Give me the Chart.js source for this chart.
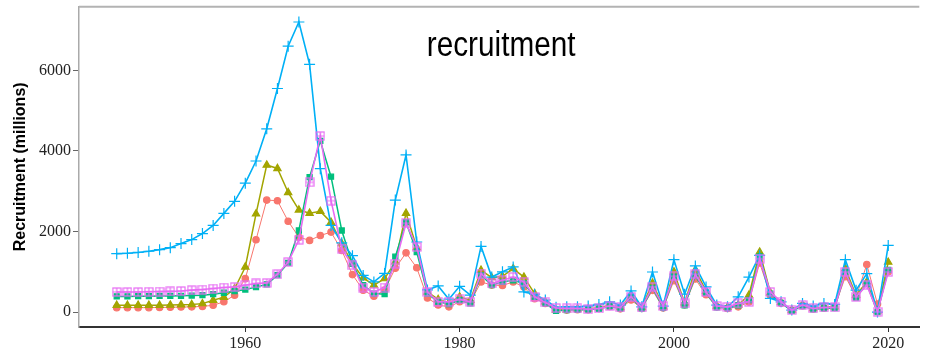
<!DOCTYPE html>
<html>
<head>
<meta charset="utf-8">
<script src="https://cdn.jsdelivr.net/npm/chart.js@4.4.1/dist/chart.umd.min.js"></script>
<style>
  html, body { margin: 0; padding: 0; background: #fff; }
  #wrap { width: 926px; height: 352px; }
</style>
</head>
<body>
<div id="wrap"><canvas id="recruitChart" width="926" height="352"></canvas></div>
<script>
// Years of the recruitment series
const years = [
  1948, 1949, 1950, 1951, 1952, 1953, 1954, 1955, 1956, 1957,
  1958, 1959, 1960, 1961, 1962, 1963, 1964, 1965, 1966, 1967,
  1968, 1969, 1970, 1971, 1972, 1973, 1974, 1975, 1976, 1977,
  1978, 1979, 1980, 1981, 1982, 1983, 1984, 1985, 1986, 1987,
  1988, 1989, 1990, 1991, 1992, 1993, 1994, 1995, 1996, 1997,
  1998, 1999, 2000, 2001, 2002, 2003, 2004, 2005, 2006, 2007,
  2008, 2009, 2010, 2011, 2012, 2013, 2014, 2015, 2016, 2017,
  2018, 2019, 2020
];

// Recruitment (millions) per run
const runA = [
  110, 110, 110, 110, 115, 120, 125, 130, 140, 170,
  255, 420, 830, 1795, 2780, 2765, 2255, 1860, 1780, 1900,
  1985, 1530, 930, 545, 395, 545, 1090, 1470, 1100, 350,
  175, 130, 255, 240, 750, 670, 660, 750, 625, 330,
  215, 50, 50, 60, 60, 90, 140, 80, 300, 90,
  540, 100, 780, 180, 820, 430, 130, 90, 130, 250,
  1220, 420, 220, 40, 160, 80, 100, 120, 880, 380,
  1180, 200, 1000
];
const runB = [
  170, 170, 170, 170, 170, 175, 180, 190, 210, 295,
  370, 580, 1120, 2440, 3650, 3565, 2970, 2535, 2455, 2500,
  2230, 1700, 1200, 850, 670, 830, 1250, 2455, 1600, 500,
  315, 230, 380, 295, 1040, 855, 890, 1080, 870, 460,
  255, 50, 60, 80, 80, 110, 170, 110, 420, 110,
  720, 130, 1000, 230, 1050, 520, 150, 120, 180, 420,
  1490, 480, 240, 50, 170, 90, 120, 130, 1080, 420,
  750, 30, 1240
];
const runC = [
  390, 390, 395, 395, 400, 400, 405, 410, 420, 445,
  480, 520, 560, 620, 690, 915, 1220, 2025, 3350, 4250,
  3360, 2025, 1200, 670, 460, 445, 1375, 2230, 1490, 460,
  255, 200, 295, 215, 915, 670, 750, 790, 710, 380,
  215, 30, 50, 60, 60, 80, 140, 90, 360, 90,
  600, 110, 880, 170, 900, 480, 120, 100, 170, 300,
  1380, 460, 230, 30, 150, 70, 90, 100, 1000, 360,
  700, 0, 1050
];
const runD = [
  1450, 1460, 1480, 1510, 1550, 1600, 1700, 1800, 1950, 2150,
  2450, 2750, 3200, 3750, 4550, 5550, 6600, 7200, 6150, 3560,
  2150, 1720, 1400, 910, 750, 960, 2780, 3900, 1740, 550,
  650, 320, 640, 420, 1630, 870, 1000, 1120, 500, 445,
  300, 120, 130, 130, 150, 190, 255, 175, 525, 130,
  995, 150, 1300, 445, 1145, 625, 175, 130, 380, 870,
  1410, 340, 255, 50, 215, 150, 215, 190, 1300, 545,
  955, 0, 1655
];
const runE = [
  500, 500, 500, 505, 510, 515, 525, 545, 560, 585,
  610, 625, 670, 710, 725, 940, 1240, 1795, 3220, 4370,
  2765, 1575, 1160, 610, 500, 610, 1200, 2205, 1615, 500,
  255, 255, 315, 255, 955, 710, 790, 870, 750, 380,
  240, 100, 90, 90, 70, 90, 150, 115, 380, 115,
  625, 150, 890, 215, 940, 500, 150, 130, 215, 255,
  1325, 500, 255, 50, 175, 90, 115, 115, 995, 380,
  670, 10, 995
];

const xTicks = [1960, 1980, 2000, 2020];
const yTicks = [0, 2000, 4000, 6000];

// open square with a plus inside
function squarePlus(color) {
  const c = document.createElement('canvas');
  c.width = 10; c.height = 10;
  const g = c.getContext('2d');
  g.strokeStyle = color;
  g.lineWidth = 1.2;
  g.strokeRect(1, 1, 8, 8);
  g.beginPath();
  g.moveTo(5, 1); g.lineTo(5, 9);
  g.moveTo(1, 5); g.lineTo(9, 5);
  g.stroke();
  return c;
}

function pts(vals) {
  return years.map((yr, i) => ({ x: yr, y: vals[i] }));
}

function series(label, vals, color, style, radius, width, order) {
  return {
    label: label,
    data: pts(vals),
    borderColor: color,
    backgroundColor: color,
    borderWidth: width,
    pointStyle: style,
    pointRadius: radius,
    pointBackgroundColor: color,
    pointBorderColor: color,
    pointBorderWidth: 1.2,
    tension: 0,
    order: order
  };
}

// no extra room for the edge tick labels, the panel runs to the canvas edge
function noEdgePadding(s) {
  s.paddingTop = 0;
  s.paddingBottom = 0;
  s.paddingLeft = 0;
  s.paddingRight = 0;
}

// panel top line and the chart title inside the plot
const panelDecor = {
  id: 'panelDecor',
  afterDraw(chart) {
    const { ctx, chartArea } = chart;
    ctx.save();
    ctx.strokeStyle = '#b3b3b3';
    ctx.lineWidth = 2;
    ctx.beginPath();
    ctx.moveTo(chartArea.left, chartArea.top);
    ctx.lineTo(chartArea.right, chartArea.top);
    ctx.stroke();
    // condensed title text
    ctx.fillStyle = '#000';
    ctx.font = '35px "Liberation Sans", Arial, sans-serif';
    ctx.textAlign = 'center';
    ctx.textBaseline = 'alphabetic';
    ctx.translate((chartArea.left + chartArea.right) / 2 + 2, 56);
    ctx.scale(0.85, 1);
    ctx.fillText('recruitment', 0, 0);
    ctx.restore();
  }
};

const ctx = document.getElementById('recruitChart').getContext('2d');
new Chart(ctx, {
  type: 'line',
  data: {
    datasets: [
      series('A', runA, '#F8766D', 'circle', 3.2, 1, 4),
      series('B', runB, '#A3A500', 'triangle', 4.2, 1.5, 3),
      series('C', runC, '#00BF7D', 'rect', 3.6, 1.5, 2),
      series('D', runD, '#00B0F6', 'cross', 5.5, 1.6, 1),
      series('E', runE, '#E76BF3', squarePlus('#E76BF3'), 5, 1.6, 0)
    ]
  },
  options: {
    responsive: false,
    animation: false,
    layout: { padding: { top: 5, right: 0, bottom: 0, left: 0 } },
    plugins: {
      legend: { display: false },
      tooltip: { enabled: false }
    },
    scales: {
      x: {
        type: 'linear',
        min: 1944.48,
        max: 2022.9,
        afterBuildTicks: s => { s.ticks = xTicks.map(v => ({ value: v })); },
        afterFit: s => { s.height = 25; noEdgePadding(s); },
        grid: { drawOnChartArea: false, drawTicks: true, tickLength: 5, tickColor: '#333' },
        border: { display: true, color: '#333', width: 2 },
        ticks: {
          color: '#222',
          padding: 2,
          maxRotation: 0,
          font: { family: '"Liberation Serif", serif', size: 16 },
          callback: v => String(v)
        }
      },
      y: {
        min: -370,
        max: 7580,
        afterBuildTicks: s => { s.ticks = yTicks.map(v => ({ value: v })); },
        afterFit: s => { s.width = 79; noEdgePadding(s); },
        grid: { drawOnChartArea: false, drawTicks: true, tickLength: 6, tickColor: '#666' },
        border: { display: true, color: '#aaa', width: 1.5 },
        ticks: {
          color: '#222',
          padding: 2,
          font: { family: '"Liberation Serif", serif', size: 16 },
          callback: v => String(v)
        },
        title: {
          display: true,
          text: 'Recruitment (millions)',
          color: '#000',
          padding: { top: 11, bottom: 0 },
          font: { family: '"Liberation Sans", Arial, sans-serif', size: 16, weight: 'bold' }
        }
      }
    }
  },
  plugins: [panelDecor]
});
</script>
</body>
</html>
